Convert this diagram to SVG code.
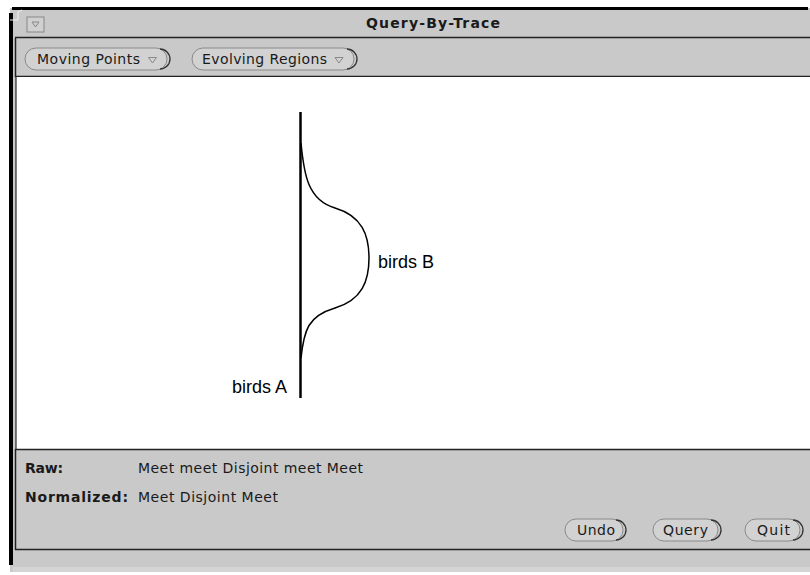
<svg xmlns="http://www.w3.org/2000/svg" width="810" height="575" viewBox="0 0 810 575">
<style>
.ui{font-family:"DejaVu Sans","Noto Sans",sans-serif;font-size:14px;fill:#1a1a1a}
.bold{font-weight:bold}
.lbl{font-family:"Liberation Sans",Arial,sans-serif;font-size:18px;fill:#000}
.pill{fill:#d2d2d2;stroke:#8a8a8a;stroke-width:1}
.sh{fill:none;stroke:#333;stroke-width:1.3}
.sep{stroke:#222;stroke-width:1.5}
.tri{fill:none;stroke:#888;stroke-width:1}
</style>
<rect width="810" height="575" fill="#fff"/>
<g id="window">
<rect x="10" y="8" width="800" height="564" fill="#c9c9c9"/>
<rect x="12" y="7" width="796" height="3" fill="#000"/>
<rect x="9" y="13" width="4" height="552" fill="#000"/>
<path d="M10,20 L18,20 L18,12 L22,10" fill="none" stroke="#f0f0f0" stroke-width="1"/>
<rect x="13" y="567" width="797" height="5" fill="#d4d4d4"/>
</g>
<g id="titlebar">
<rect x="27" y="17" width="17" height="15" fill="#d0d0d0" stroke="#888" stroke-width="1"/>
<path d="M32,22 L39,22 L35.5,27 Z" class="tri"/>
<text x="366" y="27.5" class="ui bold" font-size="14.5" textLength="134" lengthAdjust="spacing">Query-By-Trace</text>
<line x1="15" y1="37.5" x2="810" y2="37.5" class="sep"/>
</g>
<g id="toolbar">
<line x1="15.5" y1="38" x2="15.5" y2="77" class="sep"/>
<line x1="15" y1="76.5" x2="810" y2="76.5" class="sep"/>
<g id="btn-moving">
<rect x="25" y="48" width="142" height="22" rx="11" class="pill"/>
<path d="M160,49 A10,10 0 0 1 160,69" class="sh"/>
<text x="37" y="64" class="ui" textLength="103" lengthAdjust="spacing">Moving Points</text>
<path d="M148.5,57.5 L156.5,57.5 L152.5,63 Z" class="tri"/>
</g>
<g id="btn-evolving">
<rect x="192" y="48" width="162" height="22" rx="11" class="pill"/>
<path d="M347,49 A10,10 0 0 1 347,69" class="sh"/>
<text x="202" y="64" class="ui" textLength="125" lengthAdjust="spacing">Evolving Regions</text>
<path d="M335,57.5 L343,57.5 L339,63 Z" class="tri"/>
</g>
</g>
<g id="canvas">
<rect x="16" y="77" width="794" height="372" fill="#fff"/>
<line x1="16" y1="77" x2="16" y2="449" stroke="#000" stroke-width="1"/>
</g>
<g id="connectors">
<line x1="300.5" y1="112" x2="300.5" y2="398" stroke="#000" stroke-width="2.5"/>
<path d="M301,143 C304,175 308,200 335,208 C362,216 369,235 369,258 C369,281 362,300 335,308 C308,316 304,330 301,358" fill="none" stroke="#000" stroke-width="1.5"/>
</g>
<g id="birdsA"><text x="232" y="393" class="lbl">birds A</text></g>
<g id="birdsB"><text x="378" y="268" class="lbl">birds B</text></g>
<g id="status">
<line x1="15" y1="449.5" x2="810" y2="449.5" class="sep"/>
<line x1="15.5" y1="449" x2="15.5" y2="550" class="sep"/>
<line x1="15" y1="549.5" x2="810" y2="549.5" class="sep"/>
<text x="25" y="473" class="ui bold" textLength="38" lengthAdjust="spacing">Raw:</text>
<text x="138" y="473" class="ui" textLength="225" lengthAdjust="spacing">Meet meet Disjoint meet Meet</text>
<text x="25" y="502" class="ui bold" textLength="103" lengthAdjust="spacing">Normalized:</text>
<text x="138" y="502" class="ui" textLength="140" lengthAdjust="spacing">Meet Disjoint Meet</text>
<g id="btn-undo">
<rect x="565" y="519" width="58" height="22" rx="11" class="pill"/>
<path d="M616,520 A10,10 0 0 1 616,540" class="sh"/>
<text x="577" y="535" class="ui" textLength="38" lengthAdjust="spacing">Undo</text>
</g>
<g id="btn-query">
<rect x="653" y="519" width="65" height="22" rx="11" class="pill"/>
<path d="M711,520 A10,10 0 0 1 711,540" class="sh"/>
<text x="663" y="535" class="ui" textLength="45" lengthAdjust="spacing">Query</text>
</g>
<g id="btn-quit">
<rect x="745" y="519" width="55" height="22" rx="11" class="pill"/>
<path d="M793,520 A10,10 0 0 1 793,540" class="sh"/>
<text x="757" y="535" class="ui" textLength="33" lengthAdjust="spacing">Quit</text>
</g>
</g>
</svg>
